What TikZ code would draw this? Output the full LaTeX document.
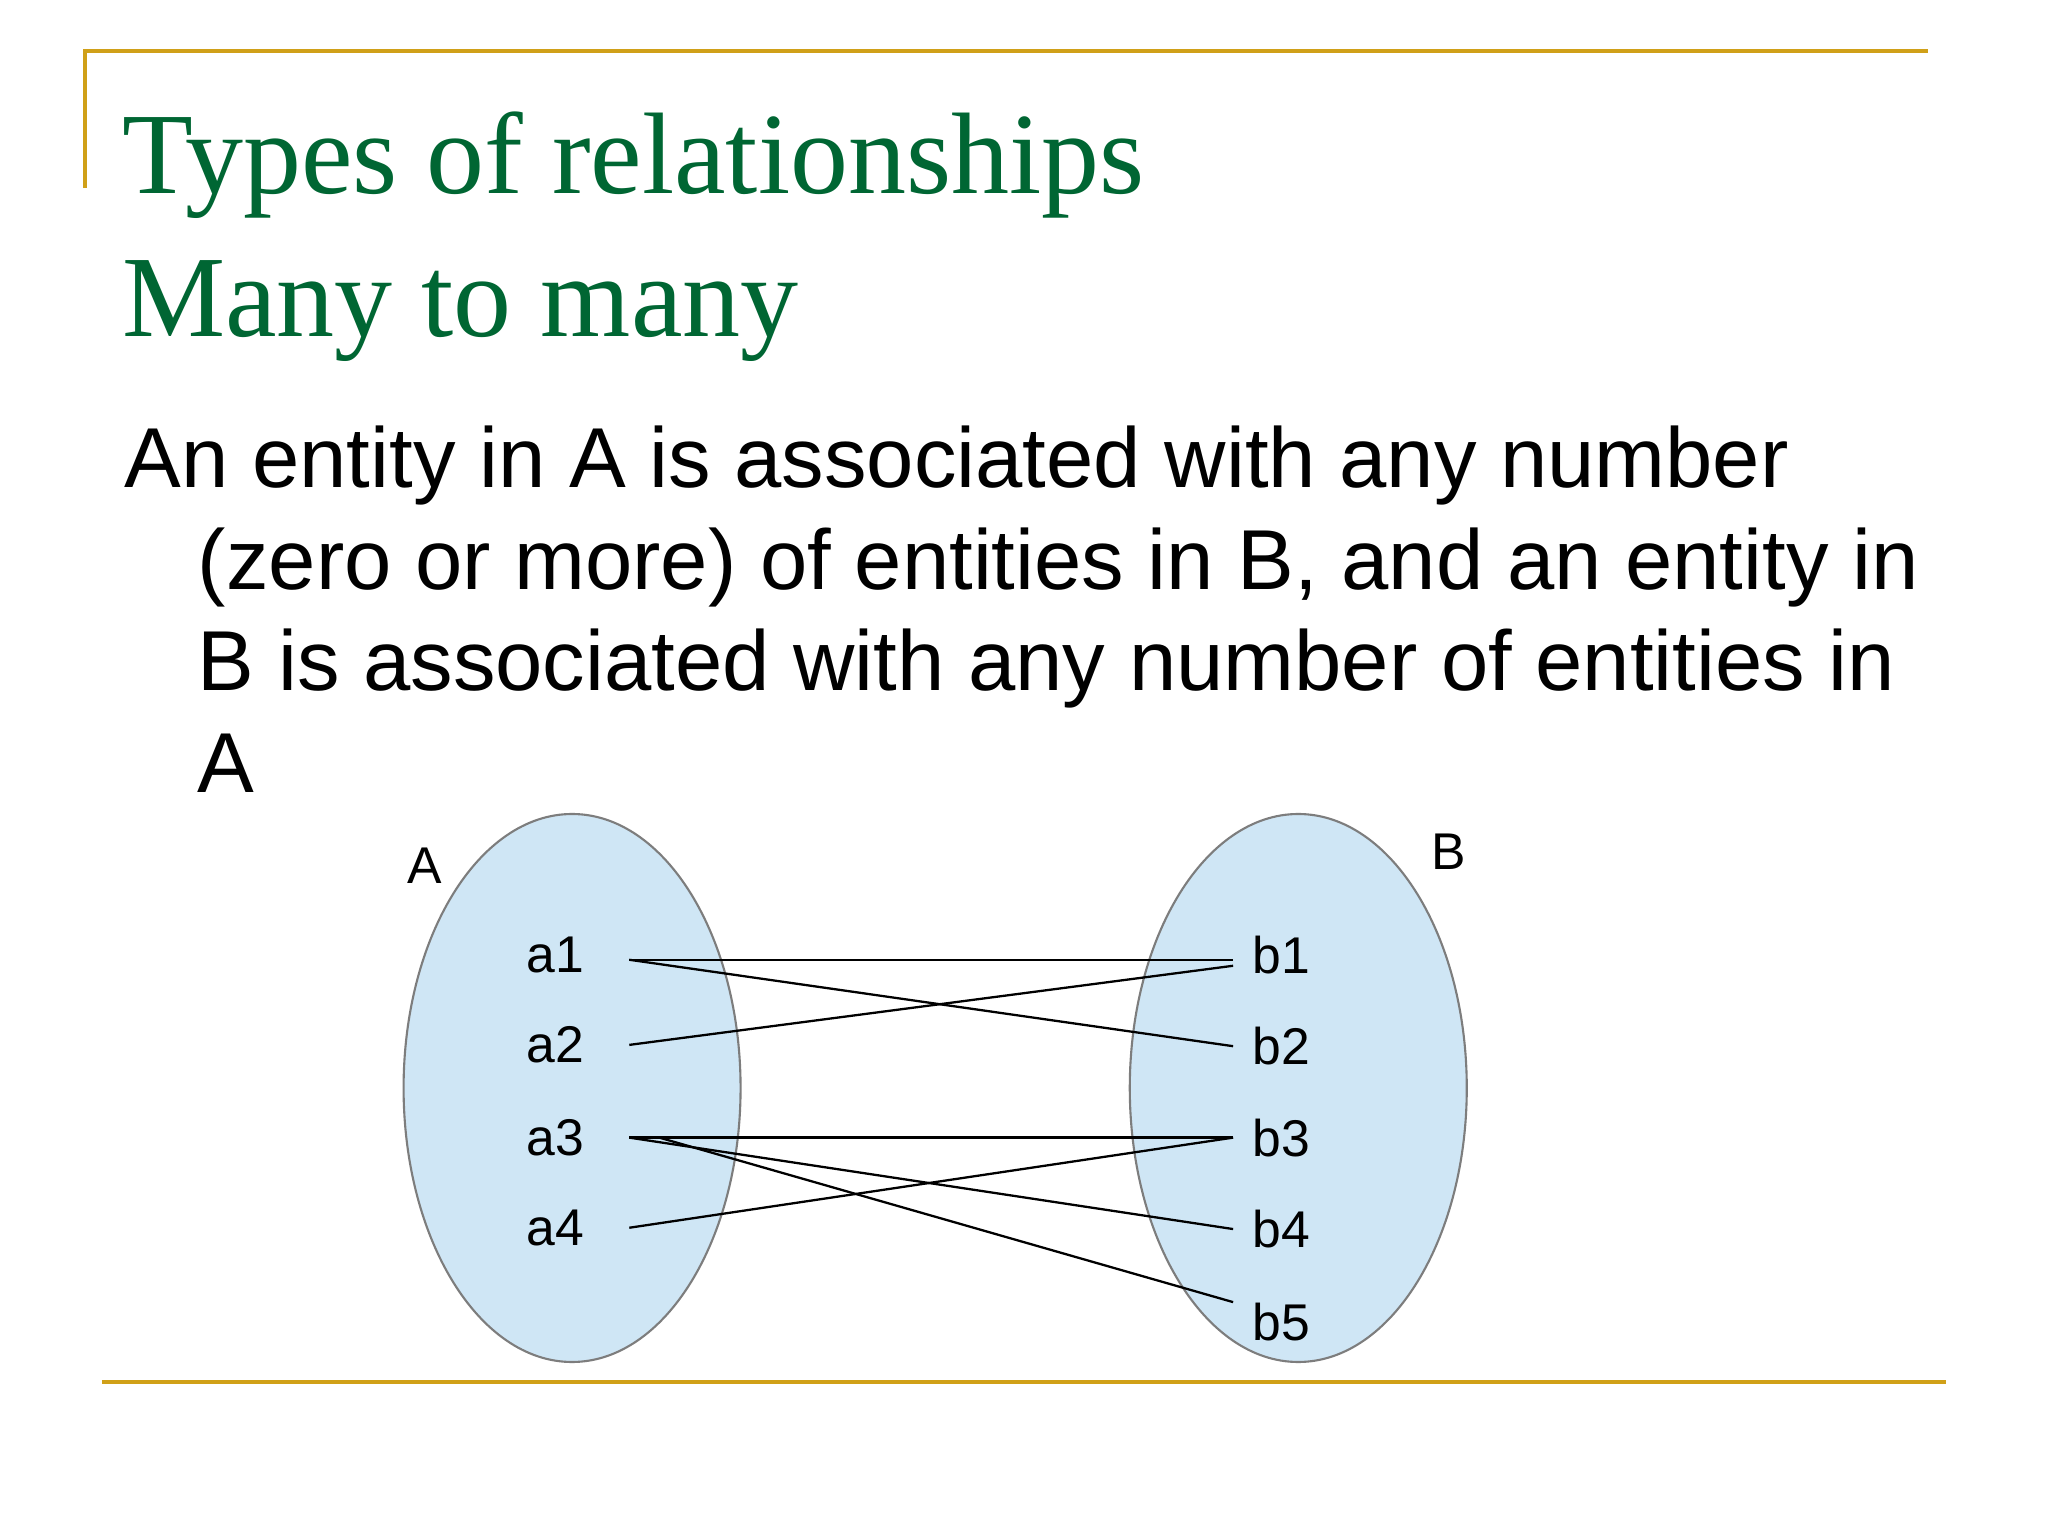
\documentclass[tikz,border=0pt]{standalone}
\usepackage{fontspec}
\setmainfont{Liberation Serif}
\newfontfamily\slidesans{Liberation Sans}
\usetikzlibrary{shapes.geometric}

\definecolor{rulegold}{RGB}{208,160,24}
\definecolor{titlegreen}{RGB}{0,102,51}
\definecolor{setblue}{RGB}{207,230,245}
\definecolor{setedge}{RGB}{125,125,125}

\tikzset{
  titleline/.style={anchor=base west, inner sep=0pt, text=titlegreen, font=\fontsize{33}{40}\selectfont},
  bodyline/.style={anchor=base west, inner sep=0pt, font=\slidesans\fontsize{24.2}{29}\selectfont},
  setshape/.style={ellipse, draw=setedge, fill=setblue, line width=0.6pt, inner sep=0pt, minimum width=3.37cm, minimum height=5.48cm},
  setname/.style={inner sep=0pt, font=\slidesans\fontsize{14.7}{17}\selectfont},
  aitem/.style={setname, minimum width=1.47cm},
  bitem/.style={setname, minimum width=0.95cm},
  link/.style={draw, line width=0.65pt},
  goldrule/.style={draw=rulegold, line width=1pt}
}

\begin{document}
\begin{tikzpicture}[x=0.01306cm, y=-0.01306cm]
\path[fill=white] (0,0) rectangle (1568,1176);
\useasboundingbox (0,0) rectangle (1568,1176);

%FRAME
\draw[goldrule] (65,144) -- (65,39) -- (1476,39);
\draw[goldrule] (78,1058) -- (1490,1058);

%TITLE
\node[titleline] (title) at (93,148) {Types of relationships};
\node[titleline] (subtitle) at (93,258) {Many to many};

%TEXT
\node[bodyline] (line1) at (95,373) {An entity in A is associated with any number};
\node[bodyline] (line2) at (151,451) {(zero or more) of entities in B, and an entity in};
\node[bodyline] (line3) at (151,529) {B is associated with any number of entities in};
\node[bodyline] (line4) at (151,607) {A};

%SETS
\node[setshape] (setA) at (438,833) {};
\node[setshape] (setB) at (994,833) {};
\node[setname] (nameA) at (325,663) {A};
\node[setname] (nameB) at (1109,652) {B};

%ELEMENTS
\node[aitem] (a1) at (425,731) {a1};
\node[aitem] (a2) at (425,800) {a2};
\node[aitem] (a3) at (425,871) {a3};
\node[aitem] (a4) at (425,940) {a4};
\node[bitem] (b1) at (981,731) {b1};
\node[bitem] (b2) at (981,801) {b2};
\node[bitem] (b3) at (981,871) {b3};
\node[bitem] (b4) at (981,941) {b4};
\node[bitem] (b5) at (981,1012) {b5};

%LINKS
\draw[link] ([yshift=-0.05cm]a1.east) -- ([yshift=-0.05cm]b1.west);
\draw[link] ([yshift=-0.05cm]a1.east) -- (b2.west);
\draw[link] (a2.east) -- ([yshift=-0.11cm]b1.west);
\draw[link] (a3.east) -- (b3.west);
\draw[link] (a3.east) -- (b4.west);
\draw[link] ([xshift=0.3cm]a3.east) -- (b5.north west);
\draw[link] (a4.east) -- (b3.west);

\end{tikzpicture}
\end{document}
